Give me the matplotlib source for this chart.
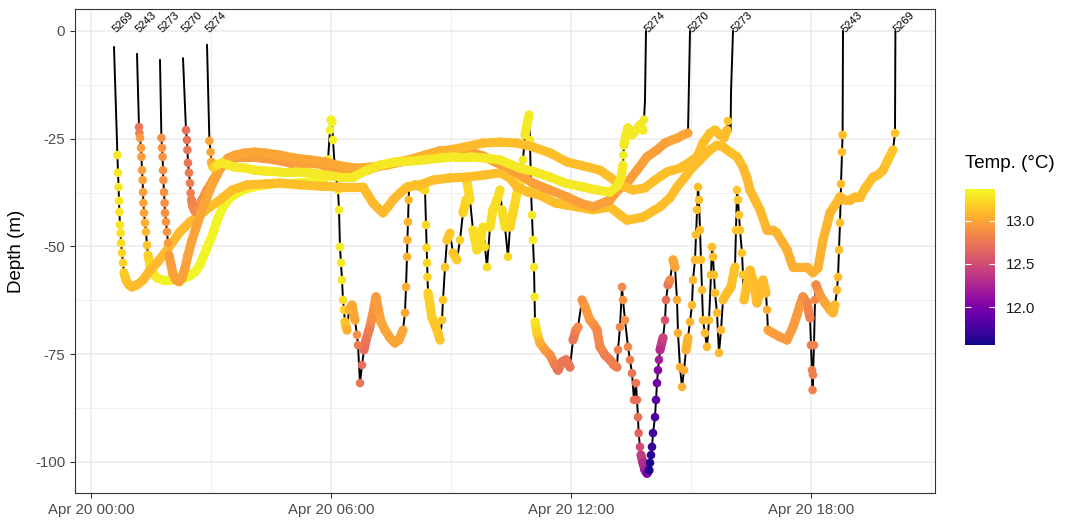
import numpy as np
import pandas as pd
import matplotlib
matplotlib.use("Agg")
import matplotlib.pyplot as plt
import matplotlib.dates as mdates
from matplotlib.collections import LineCollection
from matplotlib.ticker import FixedLocator

plt.rcParams['font.family'] = ['Liberation Sans', 'DejaVu Sans']
plt.rcParams['axes.unicode_minus'] = False

nan = np.nan

# float tracks: (hours after Apr 20 00:00, depth m, temperature C)
# nan temperature = surface leg without CTD data, only the line is drawn
track_5269 = [
    (0.575, -3.7, nan), (0.66, -28.8, 13.3), (0.675, -32.9, 13.3), (0.69, -36.2, 13.3),
    (0.70, -39.4, 13.3), (0.71, -42.0, 13.28), (0.725, -45.0, 13.28), (0.74, -46.9, 13.27),
    (0.75, -49.2, 13.25), (0.775, -51.5, 13.22), (0.80, -53.8, 13.2), (0.825, -56.1, 13.18),
    (0.875, -57.8, 13.15), (0.95, -58.9, 13.12), (1.025, -59.4, 13.1), (1.15, -58.9, 13.1),
    (1.30, -57.8, 13.1), (1.475, -55.5, 13.1), (1.65, -53.8, 13.1), (1.90, -50.8, 13.1),
    (2.225, -46.6, 13.1), (2.475, -44.3, 13.1), (2.725, -42.7, 13.1), (2.975, -40.8, 13.12),
    (3.225, -39.2, 13.12), (3.525, -36.9, 13.12), (3.90, -35.7, 13.12), (4.35, -35.5, 13.12),
    (4.725, -35.3, 13.12), (5.225, -35.7, 13.12), (5.725, -36.0, 13.12), (6.225, -36.2, 13.12),
    (6.80, -36.2, 13.12), (6.925, -38.1, 13.1), (7.05, -39.9, 13.1), (7.175, -41.1, 13.1),
    (7.30, -42.2, 13.1), (7.425, -40.8, 13.1), (7.55, -39.2, 13.1), (7.725, -37.6, 13.1),
    (7.90, -36.2, 13.12), (8.225, -35.7, 13.12), (8.55, -34.6, 13.12), (8.975, -34.1, 13.12),
    (9.40, -33.9, 13.12), (9.85, -33.4, 13.12), (10.225, -32.9, 13.12), (10.475, -34.1, 13.12),
    (10.65, -36.2, 13.12), (10.925, -37.4, 13.12), (11.225, -38.1, 13.12), (11.60, -39.9, 13.12),
    (11.90, -40.4, 13.12), (12.15, -40.8, 13.12), (12.55, -41.5, 13.12), (12.975, -40.8, 13.12),
    (13.225, -42.7, 13.12), (13.40, -43.9, 13.12), (13.80, -43.2, 13.12), (14.225, -40.8, 13.12),
    (14.475, -38.7, 13.12), (14.65, -36.2, 13.12), (14.85, -33.9, 13.12), (14.975, -32.3, 13.12),
    (15.225, -29.9, 13.12), (15.475, -27.6, 13.12), (15.65, -26.5, 13.12), (15.80, -26.9, 13.12),
    (15.975, -28.1, 13.12), (16.15, -29.2, 13.12), (16.30, -31.6, 13.1), (16.40, -34.1, 13.1),
    (16.475, -36.9, 13.1), (16.60, -39.2, 13.1), (16.725, -41.5, 13.1), (16.90, -46.2, 13.08),
    (17.05, -46.2, 13.08), (17.15, -46.9, 13.08), (17.30, -49.2, 13.05), (17.40, -50.8, 13.05),
    (17.55, -54.8, 13.05), (17.725, -54.8, 13.05), (17.90, -54.8, 13.05), (18.05, -56.1, 13.05),
    (18.175, -55.0, 13.05), (18.30, -48.5, 13.08), (18.40, -45.0, 13.08), (18.475, -42.2, 13.08),
    (18.60, -40.4, 13.1), (18.725, -38.5, 13.1), (18.85, -39.2, 13.1), (18.975, -39.2, 13.1),
    (19.10, -38.5, 13.1), (19.225, -38.5, 13.1), (19.375, -36.2, 13.12), (19.55, -33.9, 13.12),
    (19.675, -33.4, 13.12), (19.80, -32.3, 13.12), (19.925, -29.9, 13.15), (20.05, -27.6, 13.15),
    (20.10, -23.7, 13.15), (20.11, 0.0, nan),
]

track_5243 = [
    (1.15, -5.3, nan), (1.20, -22.3, 12.75), (1.21, -23.7, 12.8), (1.225, -24.8, 12.95),
    (1.25, -27.1, 12.95), (1.26, -29.2, 12.95), (1.275, -32.3, 12.97), (1.29, -34.6, 12.97),
    (1.30, -37.4, 12.97), (1.31, -39.9, 13.0), (1.325, -42.2, 13.0), (1.35, -44.5, 13.05),
    (1.375, -46.6, 13.1), (1.40, -49.7, 13.15), (1.425, -52.0, 13.2), (1.475, -54.3, 13.25),
    (1.55, -56.1, 13.3), (1.65, -57.3, 13.32), (1.80, -57.8, 13.33), (1.975, -57.8, 13.35),
    (2.15, -57.5, 13.35), (2.35, -57.3, 13.35), (2.475, -56.8, 13.35), (2.60, -55.9, 13.35),
    (2.725, -54.3, 13.35), (2.90, -50.3, 13.35), (3.05, -46.9, 13.35), (3.175, -43.4, 13.35),
    (3.30, -40.8, 13.35), (3.475, -38.7, 13.35), (3.65, -37.6, 13.35), (3.85, -36.7, 13.35),
    (4.05, -36.2, 13.35), (4.35, -35.7, 13.35), (4.725, -35.3, 13.35), (5.10, -35.3, 13.35),
    (5.475, -35.0, 13.35), (5.725, -34.8, 13.35), (5.85, -34.1, 13.35), (5.925, -29.9, 13.33),
    (5.975, -23.0, 13.33), (6.0, -20.6, 13.33), (6.025, -21.1, 13.33), (6.05, -25.3, 13.33),
    (6.10, -32.3, 13.33), (6.175, -36.9, 13.33), (6.20, -41.5, 13.32), (6.225, -50.1, 13.32),
    (6.25, -53.8, 13.3), (6.275, -57.8, 13.28), (6.30, -62.4, 13.25), (6.325, -64.7, 13.2),
    (6.35, -67.5, 13.15), (6.40, -69.4, 13.05), (6.45, -64.7, 13.05), (6.525, -63.6, 13.0),
    (6.60, -67.1, 13.0), (6.65, -70.5, 12.9), (6.675, -72.9, 12.8), (6.725, -81.7, 12.75),
    (6.775, -77.5, 12.7), (6.825, -74.0, 12.7), (6.875, -71.7, 12.75), (6.95, -69.4, 12.8),
    (7.025, -66.6, 12.9), (7.125, -61.7, 12.95), (7.175, -64.3, 12.95), (7.25, -67.5, 13.0),
    (7.35, -69.4, 13.0), (7.475, -71.2, 13.0), (7.60, -72.4, 13.0), (7.70, -71.7, 13.0),
    (7.80, -69.4, 13.0), (7.85, -65.4, 13.02), (7.875, -59.4, 13.03), (7.90, -52.4, 13.05),
    (7.91, -48.5, 13.05), (7.925, -44.3, 13.07), (7.94, -39.2, 13.1), (7.95, -36.2, 13.1),
    (8.10, -35.7, 13.15), (8.25, -36.2, 13.2), (8.35, -36.9, 13.22), (8.375, -45.0, 13.22),
    (8.39, -50.3, 13.22), (8.40, -53.8, 13.22), (8.41, -57.1, 13.2), (8.425, -60.8, 13.2),
    (8.475, -63.6, 13.2), (8.525, -66.6, 13.18), (8.60, -68.2, 13.15), (8.675, -70.1, 13.15),
    (8.725, -71.7, 13.15), (8.775, -67.1, 13.15), (8.80, -62.4, 13.15), (8.85, -54.8, 13.15),
    (8.90, -48.5, 13.15), (8.975, -46.9, 13.15), (9.05, -51.5, 13.15), (9.15, -53.1, 13.18),
    (9.225, -48.5, 13.2), (9.30, -42.2, 13.2), (9.375, -39.2, 13.22), (9.40, -35.0, 13.22),
    (9.475, -39.2, 13.25), (9.55, -46.2, 13.25), (9.65, -50.8, 13.25), (9.725, -49.2, 13.25),
    (9.80, -45.5, 13.25), (9.85, -50.1, 13.25), (9.90, -54.8, 13.25), (9.975, -45.5, 13.25),
    (10.05, -41.5, 13.25), (10.15, -39.2, 13.25), (10.225, -36.9, 13.25), (10.275, -41.5, 13.25),
    (10.35, -45.5, 13.25), (10.425, -52.4, 13.22), (10.475, -45.5, 13.22), (10.55, -42.2, 13.22),
    (10.65, -37.6, 13.25), (10.725, -35.3, 13.28), (10.80, -29.9, 13.3), (10.85, -24.1, 13.3),
    (10.90, -21.8, 13.3), (10.95, -19.5, 13.3), (10.975, -25.3, 13.3), (11.0, -36.9, 13.3),
    (11.025, -42.7, 13.3), (11.05, -48.5, 13.3), (11.075, -54.8, 13.3), (11.09, -61.7, 13.3),
    (11.10, -67.5, 13.28), (11.15, -70.1, 13.2), (11.225, -72.4, 13.05), (11.35, -74.0, 12.95),
    (11.475, -75.2, 12.9), (11.60, -77.5, 12.8), (11.675, -78.7, 12.75), (11.775, -76.8, 12.75),
    (11.875, -76.3, 12.75), (11.975, -78.0, 12.75), (12.05, -71.7, 12.75), (12.125, -69.4, 12.8),
    (12.175, -68.7, 12.85), (12.275, -62.4, 12.9), (12.35, -64.0, 12.95), (12.475, -67.1, 12.95),
    (12.575, -68.2, 12.9), (12.65, -69.4, 12.85), (12.725, -73.3, 12.85), (12.85, -75.2, 12.8),
    (12.975, -76.3, 12.8), (13.075, -77.5, 12.8), (13.15, -78.0, 12.8), (13.175, -74.0, 12.8),
    (13.225, -68.7, 12.85), (13.275, -59.4, 12.85), (13.30, -62.4, 12.9), (13.35, -67.1, 12.9),
    (13.425, -73.3, 12.85), (13.475, -76.3, 12.8), (13.525, -79.4, 12.75), (13.575, -85.6, 12.75),
    (13.625, -81.7, 12.75), (13.65, -85.6, 12.7), (13.675, -89.6, 12.7), (13.69, -93.3, 12.65),
    (13.725, -96.5, 12.5), (13.75, -98.4, 12.4), (13.80, -100.2, 12.3), (13.85, -101.9, 12.2),
    (13.90, -102.6, 12.0), (13.95, -101.9, 11.6), (13.975, -100.2, 11.6), (14.0, -98.4, 11.65),
    (14.025, -96.5, 11.7), (14.05, -93.3, 11.75), (14.10, -89.6, 11.8), (14.125, -85.6, 11.85),
    (14.15, -81.7, 11.95), (14.175, -78.7, 12.05), (14.20, -76.3, 12.2), (14.225, -74.0, 12.3),
    (14.30, -71.2, 12.45), (14.35, -67.1, 12.55), (14.375, -62.4, 12.7), (14.425, -58.9, 12.75),
    (14.475, -57.8, 12.85), (14.55, -53.1, 13.0), (14.60, -54.8, 13.0), (14.65, -62.4, 13.02),
    (14.675, -70.1, 13.05), (14.725, -78.0, 13.05), (14.775, -82.6, 13.05), (14.825, -78.7, 13.05),
    (14.875, -74.0, 13.05), (14.925, -71.2, 13.08), (14.975, -67.5, 13.08), (15.025, -63.6, 13.1),
    (15.05, -57.8, 13.1), (15.10, -53.1, 13.1), (15.125, -47.3, 13.12), (15.15, -41.5, 13.12),
    (15.175, -36.2, 13.12), (15.20, -39.2, 13.12), (15.225, -46.2, 13.12), (15.25, -53.1, 13.12),
    (15.275, -60.1, 13.1), (15.30, -67.1, 13.1), (15.35, -70.1, 13.1), (15.40, -73.3, 13.1),
    (15.45, -67.1, 13.12), (15.50, -56.6, 13.12), (15.525, -50.1, 13.12), (15.55, -52.4, 13.12),
    (15.575, -56.6, 13.12), (15.60, -60.8, 13.12), (15.65, -65.4, 13.1), (15.70, -74.7, 13.1),
    (15.75, -69.4, 13.1), (15.80, -62.4, 13.12), (15.90, -60.8, 13.12), (16.0, -59.4, 13.12),
    (16.10, -54.8, 13.15), (16.125, -46.2, 13.15), (16.15, -36.9, 13.15), (16.175, -39.2, 13.15),
    (16.20, -42.7, 13.15), (16.225, -46.2, 13.15), (16.275, -51.5, 13.15), (16.30, -56.6, 13.15),
    (16.325, -62.4, 13.12), (16.40, -58.9, 13.12), (16.475, -55.5, 13.12), (16.55, -57.8, 13.12),
    (16.65, -63.1, 13.1), (16.725, -60.8, 13.1), (16.80, -57.8, 13.1), (16.875, -60.8, 13.1),
    (16.90, -64.7, 13.05), (16.925, -69.4, 13.0), (17.05, -70.1, 12.95), (17.225, -71.0, 12.95),
    (17.40, -71.7, 12.95), (17.55, -68.7, 12.95), (17.65, -65.9, 12.95), (17.725, -63.6, 12.95),
    (17.80, -61.7, 12.9), (17.90, -63.1, 12.85), (17.975, -66.6, 12.8), (18.0, -72.9, 12.8),
    (18.025, -78.7, 12.8), (18.04, -83.3, 12.8), (18.05, -79.8, 12.8), (18.075, -72.9, 12.82),
    (18.10, -62.4, 12.85), (18.125, -58.9, 12.85), (18.225, -61.3, 12.95), (18.35, -63.1, 13.0),
    (18.475, -64.7, 13.05), (18.55, -65.4, 13.08), (18.60, -63.6, 13.1), (18.65, -60.1, 13.1),
    (18.675, -57.1, 13.1), (18.70, -50.8, 13.12), (18.725, -44.5, 13.12), (18.75, -35.5, 13.12),
    (18.775, -28.1, 13.12), (18.79, -24.1, 13.12), (18.80, 0.0, nan),
]

track_5273 = [
    (1.725, -6.7, nan), (1.76, -24.8, 12.9), (1.775, -27.1, 12.9), (1.79, -29.2, 12.9),
    (1.80, -32.3, 12.9), (1.81, -34.6, 12.9), (1.825, -37.4, 12.9), (1.84, -39.9, 12.9),
    (1.85, -42.2, 12.9), (1.875, -44.3, 12.92), (1.90, -46.6, 12.92), (1.925, -49.2, 12.95),
    (1.95, -52.0, 12.95), (2.0, -54.3, 12.97), (2.05, -56.4, 12.97), (2.125, -57.8, 12.98),
    (2.20, -58.2, 12.98), (2.275, -57.3, 12.98), (2.35, -55.0, 12.98), (2.425, -52.0, 12.98),
    (2.525, -48.5, 12.98), (2.65, -45.0, 13.0), (2.775, -41.5, 13.0), (2.90, -38.5, 13.0),
    (3.025, -35.7, 13.0), (3.15, -33.4, 13.0), (3.275, -31.1, 13.0), (3.425, -29.5, 13.0),
    (3.60, -28.8, 13.0), (3.85, -28.3, 13.0), (4.10, -28.1, 13.0), (4.35, -28.3, 13.0),
    (4.725, -28.8, 13.0), (5.10, -29.5, 13.0), (5.475, -29.9, 13.0), (5.85, -30.4, 13.0),
    (6.225, -31.3, 13.02), (6.60, -31.8, 13.02), (6.975, -31.6, 13.05), (7.40, -31.1, 13.05),
    (7.725, -30.4, 13.05), (8.10, -29.5, 13.05), (8.55, -28.3, 13.08), (8.975, -27.6, 13.08),
    (9.35, -26.9, 13.1), (9.80, -26.0, 13.1), (10.225, -25.8, 13.12), (10.65, -26.0, 13.12),
    (11.05, -26.9, 13.12), (11.475, -28.3, 13.12), (11.90, -30.4, 13.12), (12.30, -31.3, 13.12),
    (12.725, -32.3, 13.12), (12.975, -33.9, 13.12), (13.225, -35.7, 13.12), (13.55, -36.9, 13.12),
    (13.85, -36.4, 13.12), (14.10, -34.6, 13.12), (14.40, -32.7, 13.12), (14.725, -31.8, 13.12),
    (14.975, -30.4, 13.12), (15.15, -29.2, 13.12), (15.30, -26.0, 13.12), (15.475, -23.7, 13.12),
    (15.60, -23.0, 13.12), (15.725, -24.1, 13.12), (15.825, -24.8, 13.12), (15.90, -23.0, 13.12),
    (15.925, -20.9, 13.15), (15.99, -23.2, nan), (16.0, -14.4, nan), (16.05, 0.0, nan),
]

track_5270 = [
    (2.30, -6.3, nan), (2.375, -23.0, 12.7), (2.40, -25.3, 12.72), (2.41, -27.6, 12.75),
    (2.425, -30.6, 12.75), (2.45, -32.9, 12.78), (2.475, -35.3, 12.8), (2.49, -37.6, 12.8),
    (2.51, -39.2, 12.82), (2.55, -40.8, 12.85), (2.60, -41.8, 12.85), (2.675, -41.3, 12.87),
    (2.775, -39.2, 12.9), (2.90, -36.9, 12.92), (3.05, -34.6, 12.95), (3.175, -32.7, 12.95),
    (3.30, -31.1, 12.95), (3.475, -29.9, 12.95), (3.725, -29.2, 12.95), (3.975, -29.2, 12.95),
    (4.275, -29.5, 12.95), (4.60, -29.9, 12.95), (4.975, -30.6, 12.95), (5.35, -30.6, 12.97),
    (5.725, -30.9, 12.97), (6.10, -32.3, 12.97), (6.475, -32.3, 12.97), (6.90, -32.3, 12.97),
    (7.225, -31.3, 12.97), (7.60, -30.6, 12.97), (7.975, -29.9, 12.97), (8.35, -28.8, 12.97),
    (8.725, -27.8, 12.97), (9.10, -27.6, 12.97), (9.475, -28.1, 12.97), (9.80, -29.0, 12.97),
    (10.10, -30.4, 12.97), (10.40, -31.6, 12.97), (10.725, -33.4, 12.97), (11.05, -35.3, 12.97),
    (11.475, -36.9, 12.97), (11.90, -38.5, 12.97), (12.225, -39.9, 12.97), (12.55, -40.8, 12.97),
    (12.80, -39.9, 12.97), (12.975, -39.2, 12.97), (13.175, -36.9, 12.97), (13.40, -35.3, 12.97),
    (13.65, -32.3, 12.97), (13.90, -29.2, 12.97), (14.15, -27.6, 12.97), (14.35, -26.0, 12.97),
    (14.525, -25.3, 13.0), (14.675, -24.8, 13.0), (14.80, -24.1, 13.0), (14.925, -23.7, 13.0),
    (14.975, 0.0, nan),
]

track_5274 = [
    (2.90, -3.2, nan), (2.96, -25.5, 13.0), (2.99, -28.1, 13.0), (3.01, -30.4, 13.05),
    (3.05, -31.6, 13.2), (3.15, -31.1, 13.3), (3.275, -30.6, 13.3), (3.425, -31.1, 13.3),
    (3.60, -31.6, 13.3), (3.85, -31.8, 13.3), (4.10, -32.3, 13.3), (4.35, -32.5, 13.3),
    (4.725, -32.7, 13.3), (5.10, -32.7, 13.3), (5.475, -32.9, 13.3), (5.85, -33.4, 13.3),
    (6.225, -33.9, 13.3), (6.55, -33.9, 13.3), (6.90, -32.3, 13.3), (7.225, -31.1, 13.3),
    (7.60, -30.4, 13.3), (7.975, -30.2, 13.3), (8.35, -29.9, 13.3), (8.725, -29.5, 13.3),
    (9.10, -29.2, 13.3), (9.475, -29.2, 13.3), (9.85, -29.5, 13.3), (10.225, -29.9, 13.3),
    (10.475, -30.9, 13.3), (10.725, -31.8, 13.3), (11.10, -32.7, 13.3), (11.475, -33.9, 13.3),
    (11.85, -35.3, 13.3), (12.30, -36.2, 13.3), (12.65, -36.9, 13.3), (12.975, -37.4, 13.3),
    (13.15, -36.0, 13.3), (13.25, -34.1, 13.3), (13.30, -31.1, 13.3), (13.31, -28.8, 13.3),
    (13.325, -26.5, 13.3), (13.375, -24.1, 13.3), (13.425, -22.5, 13.3), (13.525, -24.1, 13.3),
    (13.625, -23.0, 13.3), (13.725, -21.8, 13.3), (13.80, -23.0, 13.3), (13.825, -20.6, 13.3),
    (13.85, -16.0, nan), (13.875, 0.0, nan),
]

float_ids = ['5243', '5269', '5270', '5273', '5274']
tracks = {'5269': track_5269, '5243': track_5243, '5273': track_5273,
          '5270': track_5270, '5274': track_5274}

temp_min, temp_max = 11.56, 13.37
cbar_ticks = [12.0, 12.5, 13.0]
xticks_h = [0, 6, 12, 18]
yticks = [-100, -75, -50, -25, 0]

start = pd.Timestamp('2021-04-20 00:00')


def to_num(hours):
    return mdates.date2num(start + pd.to_timedelta(np.atleast_1d(hours), unit='h'))


cmap = plt.get_cmap('plasma')
norm = plt.Normalize(temp_min, temp_max)

fig = plt.figure(figsize=(10.67, 5.24), dpi=100)
ax = fig.add_axes([75 / 1067, 31 / 524, 860 / 1067, 484 / 524])

# black track lines under everything
for fid in float_ids:
    h, d, t = np.array(tracks[fid], dtype=float).T
    ax.plot(to_num(h), d, color='black', lw=1.4, zorder=2, solid_capstyle='round')

# coloured samples; slow parts of the track come out as a continuous band
for fid in float_ids:
    h, d, t = np.array(tracks[fid], dtype=float).T
    ok = ~np.isnan(t)
    hs, ds, ts = h[ok], d[ok], t[ok]
    xs = to_num(hs)
    speed = np.abs(np.diff(ds)) / np.diff(hs)
    segs, cols = [], []
    for i in range(len(xs) - 1):
        if speed[i] < 60:
            segs.append([(xs[i], ds[i]), (xs[i + 1], ds[i + 1])])
            cols.append(0.5 * (ts[i] + ts[i + 1]))
    lc = LineCollection(segs, colors=cmap(norm(np.array(cols))), linewidths=6.6,
                        capstyle='round', joinstyle='round', zorder=3)
    ax.add_collection(lc)
    ax.scatter(xs, ds, c=ts, cmap=cmap, norm=norm, s=38, linewidths=0, zorder=3)

# float id at deployment and recovery
for fid in float_ids:
    h = [p[0] for p in tracks[fid]]
    for hh in (h[0], h[-1]):
        ax.text(to_num(hh)[0], 0, fid, rotation=45, rotation_mode='anchor',
                ha='left', va='center', fontsize=8, color='black', zorder=5)

ax.set_xlim(to_num(-0.4)[0], to_num(21.1)[0])
ax.set_ylim(-107.2, 5.1)
ax.xaxis.set_major_locator(FixedLocator(to_num(xticks_h)))
ax.xaxis.set_minor_locator(FixedLocator(to_num([3, 9, 15, 21])))
ax.xaxis.set_major_formatter(mdates.DateFormatter('%b %d %H:%M'))
ax.yaxis.set_major_locator(FixedLocator(yticks))
ax.yaxis.set_minor_locator(FixedLocator([-87.5, -62.5, -37.5, -12.5]))
ax.set_yticklabels([str(v) for v in yticks])

ax.grid(which='major', color='#EBEBEB', lw=1.1, zorder=0)
ax.grid(which='minor', color='#EBEBEB', lw=0.55, zorder=0)
ax.set_axisbelow(True)
for s in ax.spines.values():
    s.set_color('#333333')
    s.set_linewidth(0.8)
ax.tick_params(which='major', direction='out', length=3.5, width=0.8, color='#333333',
               labelcolor='#4D4D4D', labelsize=10.8)
ax.tick_params(which='minor', length=0)
ax.set_ylabel('Depth (m)', fontsize=13.5, labelpad=7)

# colour bar
cax = fig.add_axes([965 / 1067, (524 - 345) / 524, 30 / 1067, 156 / 524])
sm = plt.cm.ScalarMappable(cmap=cmap, norm=norm)
cb = fig.colorbar(sm, cax=cax)
cb.outline.set_visible(False)
cb.set_ticks(cbar_ticks)
cb.set_ticklabels(['%.1f' % v for v in cbar_ticks])
cax.tick_params(length=0, labelsize=10.8, pad=8, labelcolor='#1A1A1A')
cax.hlines(cbar_ticks, 0, 0.2, color='white', lw=0.8, transform=cax.get_yaxis_transform())
cax.hlines(cbar_ticks, 0.8, 1, color='white', lw=0.8, transform=cax.get_yaxis_transform())
fig.text(965 / 1067, 1 - 163 / 524, 'Temp. (°C)', fontsize=13.5, ha='left', va='center')

fig.savefig('out.png', dpi=100)
